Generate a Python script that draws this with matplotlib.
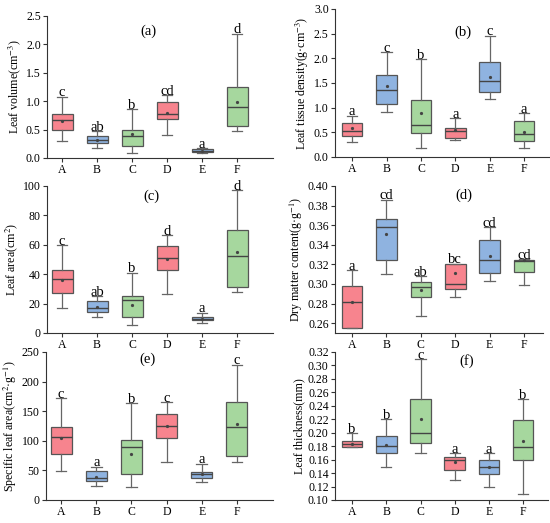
import matplotlib
matplotlib.use("Agg")
import matplotlib.pyplot as plt
import numpy as np

plt.rcParams['font.family'] = ['Liberation Serif', 'DejaVu Serif']
plt.rcParams['mathtext.fontset'] = 'stix'

categories = ['A', 'B', 'C', 'D', 'E', 'F']
colors_by_cat = ['#F7848E', '#8FB3E0', '#A6D79E', '#F7848E', '#8FB3E0', '#A6D79E']

# (a) Leaf volume
a_lo = [0.30, 0.17, 0.08, 0.40, 0.08, 0.47]
a_q1 = [0.49, 0.26, 0.21, 0.68, 0.11, 0.57]
a_med = [0.67, 0.32, 0.39, 0.77, 0.13, 0.89]
a_q3 = [0.77, 0.39, 0.49, 0.99, 0.15, 1.25]
a_hi = [1.08, 0.47, 0.855, 1.10, 0.17, 2.19]
a_mean = [0.65, 0.32, 0.42, 0.80, 0.13, 0.98]
a_let = ['c', 'ab', 'b', 'cd', 'a', 'd']

# (b) Leaf tissue density
b_lo = [0.30, 0.91, 0.19, 0.35, 1.18, 0.18]
b_q1 = [0.43, 1.08, 0.49, 0.39, 1.32, 0.32]
b_med = [0.52, 1.35, 0.64, 0.53, 1.54, 0.47]
b_q3 = [0.68, 1.66, 1.16, 0.58, 1.92, 0.72]
b_hi = [0.83, 2.12, 1.98, 0.78, 2.45, 0.88]
b_mean = [0.58, 1.44, 0.89, 0.54, 1.61, 0.51]
b_let = ['a', 'c', 'b', 'a', 'c', 'a']

# (c) Leaf area
c_lo = [17.2, 10.9, 5.2, 26.8, 6.8, 27.9]
c_q1 = [27.4, 14.5, 10.9, 42.6, 8.6, 31.3]
c_med = [37.0, 17.2, 22.2, 51.0, 9.8, 52.4]
c_q3 = [43.0, 21.5, 25.2, 59.2, 10.9, 70.3]
c_hi = [59.6, 25.0, 40.8, 66.4, 13.8, 97.0]
c_mean = [36.0, 17.7, 19.3, 50.6, 9.6, 55.1]
c_let = ['c', 'ab', 'b', 'd', 'a', 'd']

# (d) Dry matter content
d_lo = [0.2552, 0.3097, 0.2678, 0.2866, 0.3026, 0.2985]
d_q1 = [0.2552, 0.3247, 0.2866, 0.2951, 0.3111, 0.3121]
d_med = [0.2815, 0.3580, 0.2968, 0.3002, 0.3240, 0.3230]
d_q3 = [0.2982, 0.3660, 0.3019, 0.3200, 0.3452, 0.3247]
d_hi = [0.3138, 0.3860, 0.3077, 0.3206, 0.3580, 0.3250]
d_mean = [0.2815, 0.3506, 0.2934, 0.3114, 0.3281, 0.3240]
d_let = ['a', 'cd', 'ab', 'bc', 'cd', 'cd']

# (e) Specific leaf area
e_lo = [49.0, 24.3, 21.4, 64.9, 31.0, 64.9]
e_q1 = [78.4, 32.7, 43.5, 104.4, 36.7, 73.9]
e_med = [106.0, 36.7, 89.2, 125.3, 43.5, 123.6]
e_q3 = [123.0, 48.5, 100.5, 145.6, 48.0, 164.8]
e_hi = [172.0, 56.4, 163.7, 165.3, 61.5, 228.6]
e_mean = [104.0, 39.5, 77.9, 124.2, 44.0, 128.7]
e_let = ['c', 'a', 'b', 'c', 'a', 'c']

# (f) Leaf thickness
f_lo = [0.1795, 0.1497, 0.1695, 0.1298, 0.1194, 0.1094]
f_q1 = [0.1795, 0.1695, 0.1844, 0.1442, 0.1392, 0.1590]
f_med = [0.1839, 0.1805, 0.1993, 0.1596, 0.1497, 0.1795]
f_q3 = [0.1884, 0.1944, 0.2495, 0.1640, 0.1590, 0.2192]
f_hi = [0.1993, 0.2197, 0.3090, 0.1695, 0.1695, 0.2495]
f_mean = [0.1834, 0.1820, 0.2197, 0.1570, 0.1487, 0.1874]
f_let = ['b', 'b', 'c', 'a', 'a', 'b']

panels = [
    dict(lo=a_lo, q1=a_q1, med=a_med, q3=a_q3, hi=a_hi, mean=a_mean, let=a_let,
         ylabel='Leaf volume(cm$^{-3}$)', ylim=(0, 2.5), yticks=np.arange(0, 2.51, 0.5), fmt='%.1f',
         tag='(a)', tagpos=(0.45, 0.89), rect=[0.0855, 0.698, 0.411, 0.2715], xlim=(0.57, 7.03)),
    dict(lo=b_lo, q1=b_q1, med=b_med, q3=b_q3, hi=b_hi, mean=b_mean, let=b_let,
         ylabel='Leaf tissue density(g·cm$^{-3}$)', ylim=(0, 3.0), yticks=np.arange(0, 3.01, 0.5), fmt='%.1f',
         tag='(b)', tagpos=(0.60, 0.84), rect=[0.609, 0.700, 0.389, 0.283], xlim=(0.5, 6.72)),
    dict(lo=c_lo, q1=c_q1, med=c_med, q3=c_q3, hi=c_hi, mean=c_mean, let=c_let,
         ylabel='Leaf area(cm$^{2}$)', ylim=(0, 100), yticks=np.arange(0, 101, 20), fmt='%d',
         tag='(c)', tagpos=(0.46, 0.93), rect=[0.0855, 0.3633, 0.411, 0.2811], xlim=(0.57, 7.03)),
    dict(lo=d_lo, q1=d_q1, med=d_med, q3=d_q3, hi=d_hi, mean=d_mean, let=d_let,
         ylabel='Dry matter content(g·g$^{-1}$)', ylim=(0.25, 0.40), yticks=np.arange(0.26, 0.401, 0.02), fmt='%.2f',
         tag='(d)', tagpos=(0.62, 0.94), rect=[0.609, 0.3633, 0.378, 0.2811], xlim=(0.5, 6.55)),
    dict(lo=e_lo, q1=e_q1, med=e_med, q3=e_q3, hi=e_hi, mean=e_mean, let=e_let,
         ylabel='Specific leaf area(cm$^{2}$·g$^{-1}$)', ylim=(0, 250), yticks=np.arange(0, 251, 50), fmt='%d',
         tag='(e)', tagpos=(0.445, 0.95), rect=[0.0836, 0.044, 0.413, 0.283], xlim=(0.57, 7.03)),
    dict(lo=f_lo, q1=f_q1, med=f_med, q3=f_q3, hi=f_hi, mean=f_mean, let=f_let,
         ylabel='Leaf thickness(mm)', ylim=(0.10, 0.32), yticks=np.arange(0.10, 0.321, 0.02), fmt='%.2f',
         tag='(f)', tagpos=(0.62, 0.94), rect=[0.609, 0.044, 0.387, 0.283], xlim=(0.5, 6.72)),
]

fig = plt.figure(figsize=(5.5, 5.23), dpi=100)
edge = '#555555'
wcol = '#666666'
positions = np.arange(1, len(categories) + 1)

for p in panels:
    ax = fig.add_axes(p['rect'])
    stats = []
    for i in range(len(categories)):
        stats.append(dict(med=p['med'][i], q1=p['q1'][i], q3=p['q3'][i],
                          whislo=p['lo'][i], whishi=p['hi'][i], mean=p['mean'][i], fliers=[]))
    bp = ax.bxp(stats, positions=positions, widths=0.6, patch_artist=True, showmeans=True,
                showfliers=False,
                boxprops=dict(edgecolor=edge, linewidth=0.9),
                whiskerprops=dict(color=wcol, linewidth=0.9),
                capprops=dict(color=wcol, linewidth=0.9),
                medianprops=dict(color='#444444', linewidth=1.0),
                meanprops=dict(marker='o', markersize=1.3, markerfacecolor='#444444',
                               markeredgecolor='#444444'),
                capwidths=0.3)
    for patch, col in zip(bp['boxes'], colors_by_cat):
        patch.set_facecolor(col)
    for i in range(len(categories)):
        ax.annotate(p['let'][i], (positions[i], p['hi'][i]), xytext=(0, 0.4),
                    textcoords='offset points', ha='center', va='baseline', fontsize=10.5,
                    annotation_clip=False)
    ax.text(p['tagpos'][0], p['tagpos'][1], p['tag'], transform=ax.transAxes,
            ha='center', va='center', fontsize=10.5)
    ax.set_ylim(*p['ylim'])
    ax.set_xlim(*p['xlim'])
    ax.set_yticks(p['yticks'])
    ax.set_yticklabels([p['fmt'] % v for v in p['yticks']])
    ax.set_xticks(positions)
    ax.set_xticklabels(categories)
    ax.set_ylabel(p['ylabel'], fontsize=8.6, labelpad=2)
    for s in ['top', 'right']:
        ax.spines[s].set_visible(False)
    for s in ['left', 'bottom']:
        ax.spines[s].set_color('#333333')
        ax.spines[s].set_linewidth(0.8)
    ax.tick_params(axis='both', labelsize=8.5, length=3, width=0.8, color='#333333', pad=1.5)

fig.savefig('out.png', dpi=100)
